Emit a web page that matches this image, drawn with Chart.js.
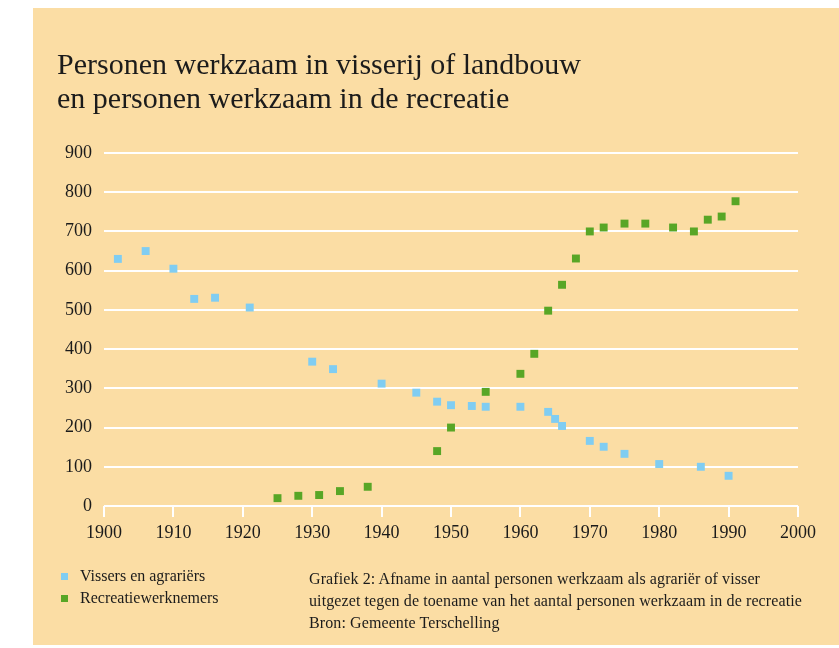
<!DOCTYPE html>
<html><head><meta charset="utf-8">
<script src="https://cdn.jsdelivr.net/npm/chart.js@4.4.0/dist/chart.umd.min.js"></script>
<style>
html,body{margin:0;padding:0;background:#fff;}
#wrap{position:relative;width:839px;height:648px;overflow:hidden;}
#panel{position:absolute;left:33px;top:8px;width:806px;height:637px;background:#FBDDA4;}
#c{position:absolute;left:0;top:0;}
.t{position:absolute;font-family:"Liberation Serif",serif;color:#1b1b1b;white-space:nowrap;}
#title{left:57px;top:47px;font-size:30px;line-height:34px;}
#legend{left:61px;top:565px;font-size:16px;line-height:22px;}
#legend .sw{display:inline-block;width:7px;height:7px;margin-right:12px;vertical-align:1px;}
#caption{left:309px;top:568px;font-size:16px;line-height:22px;letter-spacing:0.1px;}
</style></head>
<body>
<div id="wrap">
<div id="panel"></div>
<canvas id="c" width="839" height="648"></canvas>
<div class="t" id="title">Personen werkzaam in visserij of landbouw<br>en personen werkzaam in de recreatie</div>
<div class="t" id="legend"></div>
<div class="t" id="caption">Grafiek 2: Afname in aantal personen werkzaam als agrariër of visser<br>uitgezet tegen de toename van het aantal personen werkzaam in de recreatie<br>Bron: Gemeente Terschelling</div>
</div>
<script>
const seriesNames = ["Vissers en agrariërs", "Recreatiewerknemers"];
const visserYears  = [1902,1906,1910,1913,1916,1921,1930,1933,1940,1945,1948,1950,1953,1955,1960,1964,1965,1966,1970,1972,1975,1980,1986,1990];
const visserValues = [630,650,605,528,531,506,368,349,312,289,266,257,255,253,253,240,222,204,166,151,133,107,100,77];
const recreatieYears  = [1925,1928,1931,1934,1938,1948,1950,1955,1960,1962,1964,1966,1968,1970,1972,1975,1978,1982,1985,1987,1989,1991];
const recreatieValues = [20,26,28,38,49,140,200,291,337,388,498,564,631,700,710,720,720,710,700,730,738,777];
const yTicks = [0,100,200,300,400,500,600,700,800,900];
const xTicks = [1900,1910,1920,1930,1940,1950,1960,1970,1980,1990,2000];

const colors = ["#80CDF2", "#58A626"];
const toPts = (xs, ys) => xs.map((x, i) => ({x: x, y: ys[i]}));

const chart = new Chart(document.getElementById('c'), {
  type: 'scatter',
  data: {
    datasets: [
      {label: seriesNames[0], data: toPts(visserYears, visserValues), backgroundColor: colors[0], pointStyle: 'rect', pointRadius: 5.6, borderWidth: 0},
      {label: seriesNames[1], data: toPts(recreatieYears, recreatieValues), backgroundColor: colors[1], pointStyle: 'rect', pointRadius: 5.6, borderWidth: 0}
    ]
  },
  options: {
    responsive: false,
    animation: false,
    events: [],
    layout: {padding: {left: 40, right: 41, top: 153, bottom: 100}},
    plugins: {legend: {display: false}, title: {display: false}, tooltip: {enabled: false}},
    scales: {
      x: {
        type: 'linear', min: 1900, max: 2000,
        afterBuildTicks: s => { s.ticks = xTicks.map(v => ({value: v})); },
        afterFit: s => { s.height = 42; },
        border: {display: false},
        grid: {drawOnChartArea: false, drawTicks: true, tickLength: 11, color: '#ffffff', lineWidth: 2},
        ticks: {padding: 5, color: '#1b1b1b', font: {family: 'Liberation Serif', size: 18}, maxRotation: 0, autoSkip: false,
                callback: v => String(v)}
      },
      y: {
        type: 'linear', min: 0, max: 900,
        afterBuildTicks: s => { s.ticks = yTicks.map(v => ({value: v})); },
        afterFit: s => { s.width = 64; },
        border: {display: false},
        grid: {drawTicks: false, color: '#ffffff', lineWidth: 2},
        ticks: {padding: 12, color: '#1b1b1b', font: {family: 'Liberation Serif', size: 18}, autoSkip: false,
                callback: v => String(v)}
      }
    }
  }
});

const leg = document.getElementById('legend');
chart.data.datasets.forEach((ds, i) => {
  const row = document.createElement('div');
  const sw = document.createElement('span');
  sw.className = 'sw';
  sw.style.background = ds.backgroundColor;
  row.appendChild(sw);
  row.appendChild(document.createTextNode(ds.label));
  leg.appendChild(row);
});
</script>
</body></html>
